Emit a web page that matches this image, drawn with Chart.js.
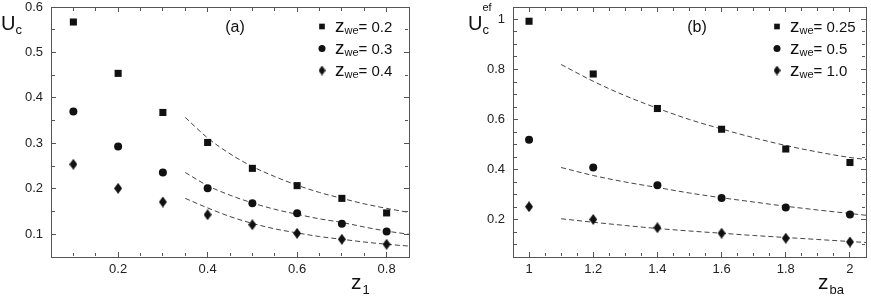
<!DOCTYPE html>
<html>
<head>
<meta charset="utf-8">
<script src="https://cdn.jsdelivr.net/npm/chart.js@4/dist/chart.umd.min.js"></script>
<style>
body { margin: 0; background: #fff; width: 871px; height: 297px; overflow: hidden; position: relative; }
canvas { position: absolute; top: 0; }
#ca { left: 0; }
#cb { left: 440px; }
</style>
</head>
<body>
<canvas id="ca" width="440" height="297"></canvas>
<canvas id="cb" width="431" height="297"></canvas>
<script>
// ---- panel (a): U_c vs z_1 ----
const z1 = [0.1, 0.2, 0.3, 0.4, 0.5, 0.6, 0.7, 0.8];
const ucWe02 = [0.567, 0.454, 0.368, 0.302, 0.245, 0.207, 0.179, 0.147];
const ucWe03 = [0.370, 0.293, 0.236, 0.201, 0.168, 0.146, 0.123, 0.106];
const ucWe04 = [0.254, 0.201, 0.171, 0.143, 0.121, 0.102, 0.089, 0.078];
const fitZ1 = [0.35, 0.4, 0.45, 0.5, 0.55, 0.6, 0.65, 0.7, 0.75, 0.8, 0.85];
const fitWe02 = [0.357, 0.312, 0.277, 0.249, 0.227, 0.208, 0.192, 0.179, 0.167, 0.157, 0.148];
const fitWe03 = [0.236, 0.207, 0.186, 0.169, 0.155, 0.144, 0.134, 0.126, 0.116, 0.107, 0.100];
const fitWe04 = [0.179, 0.158, 0.139, 0.124, 0.112, 0.103, 0.095, 0.089, 0.083, 0.078, 0.074];
const xTicksA = [0.2, 0.4, 0.6, 0.8];
const yTicksA = [0.1, 0.2, 0.3, 0.4, 0.5, 0.6];
const legendA = ['0.2', '0.3', '0.4'];

// ---- panel (b): U_c^ef vs z_ba ----
const zba = [1, 1.2, 1.4, 1.6, 1.8, 2];
const efWe025 = [0.993, 0.782, 0.644, 0.561, 0.482, 0.428];
const efWe05 = [0.519, 0.408, 0.337, 0.286, 0.248, 0.220];
const efWe10 = [0.251, 0.200, 0.167, 0.145, 0.125, 0.110];
const fitZba = [1.1, 1.2, 1.3, 1.4, 1.5, 1.6, 1.7, 1.8, 1.9, 2.0, 2.05];
const fitWe025 = [0.820, 0.753, 0.695, 0.645, 0.600, 0.562, 0.527, 0.496, 0.470, 0.448, 0.440];
const fitWe05 = [0.408, 0.376, 0.350, 0.328, 0.306, 0.287, 0.270, 0.253, 0.238, 0.224, 0.217];
const fitWe10 = [0.203, 0.189, 0.176, 0.164, 0.154, 0.145, 0.136, 0.128, 0.120, 0.112, 0.108];
const xTicksB = [1, 1.2, 1.4, 1.6, 1.8, 2];
const yTicksB = [0.2, 0.4, 0.6, 0.8, 1];
const legendB = ['0.25', '0.5', '1.0'];

const FONT = '"Liberation Sans", Arial, sans-serif';

function diamond(w, h) {
    const c = document.createElement('canvas');
    c.width = w; c.height = h;
    const g = c.getContext('2d');
    g.fillStyle = '#111';
    g.beginPath();
    g.moveTo(w / 2, 0); g.lineTo(w, h / 2); g.lineTo(w / 2, h); g.lineTo(0, h / 2);
    g.closePath(); g.fill();
    return c;
}
const markers = [
    { pointStyle: 'rect', radius: 5 },
    { pointStyle: 'circle', radius: 4 },
    { pointStyle: diamond(8, 11), radius: 5 }
];
const legendMarkers = [
    { pointStyle: 'rect', radius: 4 },
    { pointStyle: 'circle', radius: 3.5 },
    { pointStyle: diamond(7, 10), radius: 4 }
];

const pts = (xs, ys) => xs.map((x, i) => ({ x: x, y: ys[i] }));
const fmt = v => String(+v.toFixed(2));

function pointSet(xs, ys, m) {
    return {
        data: pts(xs, ys), showLine: false,
        pointStyle: m.pointStyle, pointRadius: m.radius,
        backgroundColor: '#111', borderColor: '#111', borderWidth: 0
    };
}
function fitSet(xs, ys) {
    return {
        data: pts(xs, ys), showLine: true, pointRadius: 0,
        borderColor: '#444', borderWidth: 1, borderDash: [5, 3],
        tension: 0.4, cubicInterpolationMode: 'monotone'
    };
}

function drawMarker(ctx, m, x, y) {
    ctx.fillStyle = '#111';
    if (m.pointStyle === 'rect') {
        const s = m.radius * Math.SQRT1_2;
        ctx.fillRect(x - s, y - s, 2 * s, 2 * s);
    } else if (m.pointStyle === 'circle') {
        ctx.beginPath(); ctx.arc(x, y, m.radius, 0, Math.PI * 2); ctx.fill();
    } else {
        ctx.drawImage(m.pointStyle, x - m.pointStyle.width / 2, y - m.pointStyle.height / 2);
    }
}

// write runs of text of different sizes one after another
function runs(ctx, x, items) {
    for (const [t, size, base] of items) {
        ctx.font = size + 'px ' + FONT;
        ctx.fillText(t, x, base);
        x += ctx.measureText(t).width;
    }
    return x;
}

// short minor ticks between the major ones, on all four sides
function drawMinor(chart, minor) {
    const ctx = chart.ctx, a = chart.chartArea;
    ctx.save();
    ctx.fillStyle = '#555';
    for (const sc of [chart.scales.x, chart.scales.y]) {
        const major = sc.ticks.map(t => t.value);
        const first = Math.ceil(sc.min / minor - 1e-6);
        for (let k = first; k * minor < sc.max - 1e-6; k++) {
            const v = k * minor;
            if (v <= sc.min + 1e-6) continue;
            if (major.some(m => Math.abs(m - v) < 1e-6)) continue;
            const p = Math.floor(sc.getPixelForValue(v));
            if (sc.isHorizontal()) {
                ctx.fillRect(p, a.bottom - 4, 1, 3);
                ctx.fillRect(p, a.top + 1, 1, 3);
            } else {
                ctx.fillRect(a.left + 1, p, 3, 1);
                ctx.fillRect(a.right - 4, p, 3, 1);
            }
        }
    }
    ctx.restore();
}

function drawTexts(chart, o) {
    const ctx = chart.ctx;
    ctx.save();
    ctx.fillStyle = '#111';
    ctx.textBaseline = 'alphabetic';
    ctx.textAlign = 'left';
    // y title
    const ux = runs(ctx, o.yTitleX, [['U', 20, 30]]);
    runs(ctx, ux, [['c', 13, 34]]);
    if (o.sup) runs(ctx, ux, [[o.sup, 11, 11]]);
    // x title
    const zx = runs(ctx, o.xTitleX, [['z', 21, 289]]);
    runs(ctx, zx + 1, [[o.xSub, 13, 294]]);
    // panel label
    ctx.font = '16px ' + FONT;
    ctx.textAlign = 'center';
    ctx.fillText(o.panel, o.panelX, 32);
    ctx.textAlign = 'left';
    // legend
    o.legend.forEach((lab, i) => {
        const cy = 26.5 + i * 22;
        drawMarker(ctx, legendMarkers[i], o.legendX, cy);
        ctx.fillStyle = '#111';
        runs(ctx, o.legendX + 13, [['z', 19, cy + 5.5], ['we', 11, cy + 7], ['= ' + lab, 15, cy + 5.5]]);
    });
    ctx.restore();
}

function decor(o) {
    return {
        id: 'decor',
        afterDraw(chart) {
            drawMinor(chart, o.minor);
            drawTexts(chart, o);
        }
    };
}

// axis frame: the library's own borders, inward major ticks (negative tick length)
const frameGrid = { display: true, drawOnChartArea: false, drawTicks: true, tickLength: -5, color: '#555', tickColor: '#555', lineWidth: 1 };
const frameBorder = { display: true, color: '#555', width: 1 };

function makeChart(id, sets, xr, yr, xTicks, yTicks, yWidth, padRight, o) {
    const tickFont = { family: FONT, size: 13, lineHeight: 1 };
    const setX = s => { s.ticks = xTicks.map(v => ({ value: v })); };
    const setY = s => { s.ticks = yTicks.map(v => ({ value: v })); };
    return new Chart(document.getElementById(id), {
        type: 'scatter',
        data: { datasets: sets },
        options: {
            responsive: false,
            animation: false,
            layout: { padding: { top: 7, right: padRight, bottom: 0, left: 0 } },
            plugins: { legend: { display: false }, tooltip: { enabled: false } },
            scales: {
                x: {
                    type: 'linear', position: 'bottom', min: xr[0], max: xr[1],
                    grid: frameGrid, border: frameBorder,
                    afterBuildTicks: setX,
                    afterFit: s => { s.height = 40; s.paddingLeft = 0; s.paddingRight = 0; },
                    ticks: { padding: 11, color: '#222', font: tickFont, autoSkip: false, maxRotation: 0, callback: v => fmt(v) }
                },
                y: {
                    type: 'linear', position: 'left', min: yr[0], max: yr[1],
                    grid: frameGrid, border: frameBorder,
                    afterBuildTicks: setY,
                    afterFit: s => { s.width = yWidth; s.paddingTop = 0; s.paddingBottom = 0; },
                    ticks: { padding: 13, color: '#222', font: tickFont, autoSkip: false, callback: v => fmt(v) }
                },
                x2: {
                    type: 'linear', position: 'top', min: xr[0], max: xr[1],
                    grid: frameGrid, border: frameBorder,
                    afterBuildTicks: setX,
                    afterFit: s => { s.height = 0; s.paddingLeft = 0; s.paddingRight = 0; },
                    ticks: { display: false }
                },
                y2: {
                    type: 'linear', position: 'right', min: yr[0], max: yr[1],
                    grid: frameGrid, border: frameBorder,
                    afterBuildTicks: setY,
                    afterFit: s => { s.width = 0; s.paddingTop = 0; s.paddingBottom = 0; },
                    ticks: { display: false }
                }
            }
        },
        plugins: [decor(o)]
    });
}

makeChart('ca', [
    pointSet(z1, ucWe02, markers[0]),
    pointSet(z1, ucWe03, markers[1]),
    pointSet(z1, ucWe04, markers[2]),
    fitSet(fitZ1, fitWe02),
    fitSet(fitZ1, fitWe03),
    fitSet(fitZ1, fitWe04)
], [0.05, 0.85], [0.05, 0.6], xTicksA, yTicksA, 51, 31, {
    minor: 0.05, yTitleX: 1, sup: null, xTitleX: 351, xSub: '1',
    panel: '(a)', panelX: 235, legend: legendA, legendX: 322
});

makeChart('cb', [
    pointSet(zba, efWe025, markers[0]),
    pointSet(zba, efWe05, markers[1]),
    pointSet(zba, efWe10, markers[2]),
    fitSet(fitZba, fitWe025),
    fitSet(fitZba, fitWe05),
    fitSet(fitZba, fitWe10)
], [0.95, 2.05], [0.05, 1.05], xTicksB, yTicksB, 73, 1, {
    minor: 0.05, yTitleX: 28, sup: 'ef', xTitleX: 378, xSub: 'ba',
    panel: '(b)', panelX: 257, legend: legendB, legendX: 337
});
</script>
</body>
</html>
